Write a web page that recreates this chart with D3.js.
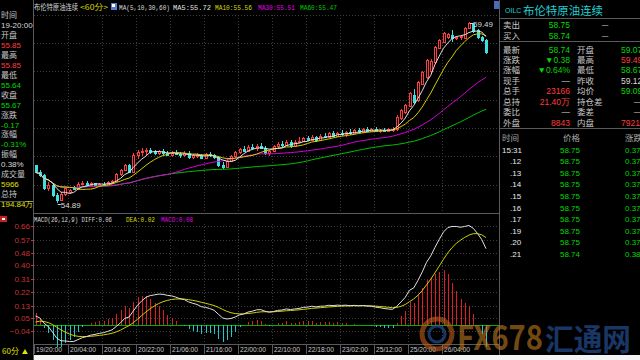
<!DOCTYPE html>
<html>
<head>
<meta charset="utf-8">
<script src="https://cdn.jsdelivr.net/npm/d3@7"></script>
<style>
  body { margin: 0; background: #000; overflow: hidden; }
  text { font-family: "Noto Sans CJK SC", "DejaVu Sans", sans-serif; }
  .num { font-family: "Liberation Sans", Arial, sans-serif; }
  .mono { font-family: "Liberation Mono", "DejaVu Sans Mono", monospace; }
</style>
</head>
<body>
<svg id="chart" width="640" height="360"></svg>
<script>
// 60-minute bars, 19/20:00 -> 26/14:00
var open  = [55.85,55.67,55.60,55.28,55.36,55.10,54.96,55.12,55.16,55.30,55.24,55.38,55.40,55.36,55.39,55.35,55.38,55.36,55.42,55.45,
             55.63,55.72,55.85,55.67,56.10,56.19,56.22,56.24,56.22,56.15,56.20,56.16,56.12,56.17,56.13,56.10,56.16,56.05,56.10,56.12,
             56.03,56.13,56.10,56.05,55.85,55.80,55.96,56.08,56.18,56.26,56.22,56.32,56.28,56.35,56.30,56.16,56.20,56.33,56.40,56.36,
             56.45,56.34,56.44,56.46,56.54,56.50,56.58,56.48,56.60,56.58,56.66,56.60,56.68,56.64,56.70,56.66,56.74,56.70,56.77,56.73,
             56.76,56.72,56.75,56.73,56.76,56.76,57.05,57.20,57.36,57.63,57.50,57.92,58.10,58.25,58.47,58.83,58.98,59.10,59.16,59.08,
             59.10,59.08,59.34,59.44,59.28,59.10,59.02];
var high  = [55.85,55.72,55.63,55.42,55.38,55.14,55.16,55.30,55.25,55.33,55.42,55.44,55.45,55.42,55.41,55.40,55.43,55.44,55.47,55.66,
             55.76,55.88,55.87,56.16,56.24,56.30,56.28,56.30,56.24,56.24,56.26,56.22,56.20,56.24,56.18,56.20,56.20,56.14,56.16,56.14,
             56.16,56.18,56.14,56.08,55.92,56.02,56.12,56.22,56.30,56.34,56.36,56.40,56.38,56.42,56.34,56.24,56.36,56.44,56.46,56.48,
             56.50,56.48,56.56,56.58,56.60,56.62,56.60,56.64,56.68,56.70,56.72,56.70,56.74,56.72,56.76,56.78,56.80,56.80,56.82,56.80,
             56.82,56.78,56.80,56.80,56.82,57.12,57.28,57.40,57.72,57.78,58.00,58.25,58.55,58.56,58.88,59.06,59.24,59.22,59.28,59.14,
             59.16,59.36,59.49,59.47,59.32,59.14,59.07];
var low   = [55.64,55.55,55.22,55.20,55.05,54.89,54.93,55.08,55.12,55.22,55.22,55.34,55.33,55.32,55.33,55.30,55.34,55.33,55.38,55.42,
             55.58,55.70,55.64,55.65,56.02,56.08,56.12,56.14,56.10,56.10,56.12,56.08,56.06,56.10,56.04,56.06,56.02,56.00,56.04,56.00,
             56.00,56.05,56.00,55.80,55.76,55.78,55.92,56.04,56.14,56.18,56.20,56.24,56.22,56.26,56.12,56.08,56.18,56.28,56.32,56.34,
             56.30,56.32,56.42,56.44,56.46,56.48,56.44,56.46,56.54,56.56,56.56,56.58,56.60,56.58,56.62,56.64,56.66,56.68,56.70,56.70,
             56.70,56.68,56.70,56.70,56.70,56.72,57.00,57.16,57.32,57.40,57.46,57.88,58.05,58.18,58.44,58.80,58.95,59.06,58.98,59.02,
             59.04,59.06,59.30,59.22,59.05,58.98,58.67];
var close = [55.67,55.60,55.28,55.36,55.10,54.96,55.12,55.27,55.21,55.24,55.38,55.40,55.36,55.39,55.35,55.38,55.36,55.42,55.45,55.63,
             55.72,55.85,55.67,56.10,56.19,56.22,56.24,56.18,56.15,56.20,56.16,56.12,56.17,56.13,56.10,56.16,56.05,56.10,56.12,56.03,
             56.13,56.10,56.05,55.85,55.80,55.96,56.08,56.18,56.26,56.22,56.32,56.28,56.35,56.30,56.16,56.20,56.33,56.40,56.36,56.45,
             56.34,56.44,56.46,56.54,56.50,56.58,56.48,56.60,56.58,56.66,56.60,56.68,56.64,56.70,56.66,56.74,56.70,56.77,56.73,56.76,
             56.72,56.75,56.73,56.76,56.78,57.07,57.25,57.38,57.69,57.46,57.97,58.22,58.52,58.50,58.85,59.03,59.21,59.18,59.08,59.10,
             59.13,59.34,59.46,59.26,59.10,59.02,58.74];

var timeLabels = ["19/20:00","20/04:00","20/14:00","20/22:00","21/06:00","21/16:00","22/00:00",
                  "22/10:00","22/18:00","23/02:00","25/12:00","25/20:00","26/04:00"];
var macdTicks = [0.66, 0.57, 0.48, 0.40, 0.31, 0.22, 0.13, 0.05, -0.04];

// left info panel (cursor on first bar)
var infoLabels = ["时间","开盘","最高","最低","收盘","涨跌","涨幅","振幅","成交量","总持"];
var infoValues = ["19-20:00","55.85","55.85","55.64","55.67","-0.17","-0.31%","0.38%","5966","194.84万"];
var infoColors = ["w","r","r","g","g","g","g","w","y","y"];

// right quote panel
var quoteLeft  = [["卖出","58.75","g"],["买入","58.74","g"]];
var statLeft   = [["最新","58.74","g"],["涨跌","▼0.38","g"],["涨幅","▼0.64%","g"],["现手","—","w"],
                  ["总手","23166","r"],["总持","21.40万","r"],["委比","—","w"],["外盘","8843","r"]];
var statRight  = [["开盘","59.07","g"],["最高","59.49","r"],["最低","58.67","g"],["昨收","59.12","w"],
                  ["均价","59.09","g"],["持仓差","—","w"],["委差","—","w"],["内盘","7921","r"]];
var tickTimes  = ["15:31",".12",".13",".14",".15",".16",".17",".19",".20",".21"];
var tickPrices = ["58.75","58.75","58.75","58.75","58.75","58.75","58.75","58.75","58.75","58.74"];
var tickChg    = ["0.37","0.37","0.37","0.37","0.37","0.37","0.37","0.37","0.37","0.38"];

var headerMA = [["MA5:55.72","#e0e0e0"],["MA10:55.56","#d8d800"],["MA30:55.51","#e000e0"],["MA60:55.47","#00c800"]];

var col = { w: "#d8d8d8", r: "#ff3c3c", g: "#00d800", y: "#e0e000", lab: "#c8c8c8" };
var UP = "#ff3c3c", DOWN = "#3ee0e0", GRID = "#3c3c3c", LINE = "#5a5a5a";

var svg = d3.select("#chart");
svg.append("rect").attr("width", 640).attr("height", 360).attr("fill", "#000");

function txt(x, y, s, fill, size, opts) {
  opts = opts || {};
  var t = svg.append("text").attr("x", x).attr("y", y).text(s)
    .attr("fill", fill).attr("font-size", size)
    .attr("text-anchor", opts.anchor || "start");
  if (opts.cls) t.attr("class", opts.cls);
  if (opts.len) t.attr("textLength", opts.len).attr("lengthAdjust", "spacingAndGlyphs");
  if (opts.bold) t.attr("font-weight", "bold");
  return t;
}

// scales
var x = d3.scaleLinear().domain([0, close.length - 1]).range([35.5, 486]);
var y = d3.scaleLinear().domain([54.89, 59.49]).range([203, 22]);
var ym = d3.scaleLinear().domain([-0.04, 0.66]).range([331, 226]);
var px = function(i) { return Math.round(x(i)); };

// ---- grid ----
var grid = svg.append("g").attr("stroke", GRID).attr("stroke-dasharray", "1,2");
[15, 43, 71, 100, 128, 156, 185].forEach(function(g) {
  grid.append("line").attr("x1", 34).attr("x2", 499).attr("y1", g + 0.5).attr("y2", g + 0.5);
});
macdTicks.forEach(function(v) {
  var yy = Math.round(ym(v)) + 0.5;
  grid.append("line").attr("x1", 34).attr("x2", 499).attr("y1", yy).attr("y2", yy);
});
timeLabels.forEach(function(t, k) {
  var xx = px(k * 8) - 1.5;
  if (k == 0) return;
  grid.append("line").attr("x1", xx).attr("x2", xx).attr("y1", 15).attr("y2", 213);
  grid.append("line").attr("x1", xx).attr("x2", xx).attr("y1", 224).attr("y2", 344);
});

// ---- panel borders ----
var border = svg.append("g").attr("stroke", LINE);
border.append("line").attr("x1", 33.5).attr("x2", 33.5).attr("y1", 0).attr("y2", 360);
border.append("line").attr("x1", 499.5).attr("x2", 499.5).attr("y1", 0).attr("y2", 355);
border.append("line").attr("x1", 33).attr("x2", 499).attr("y1", 213.5).attr("y2", 213.5);
border.append("line").attr("x1", 33).attr("x2", 499).attr("y1", 344.5).attr("y2", 344.5);
border.append("line").attr("x1", 0).attr("x2", 33).attr("y1", 201.5).attr("y2", 201.5);
[18.5, 41.5, 128.5].forEach(function(g) {
  border.append("line").attr("x1", 500).attr("x2", 640).attr("y1", g).attr("y2", g);
});
timeLabels.forEach(function(t, k) {
  var xx = px(k * 8) - 1.5;
  border.append("line").attr("x1", xx).attr("x2", xx).attr("y1", 344).attr("y2", 354);
});

// ---- candles ----
var cg = svg.append("g").attr("shape-rendering", "crispEdges");
close.forEach(function(c, i) {
  var o = open[i], cx = px(i);
  var top = Math.round(y(Math.max(o, c))), bot = Math.round(y(Math.min(o, c)));
  if (bot - top < 1) bot = top + 1;
  if (c >= o) {
    cg.append("line").attr("x1", cx + 0.5).attr("x2", cx + 0.5)
      .attr("y1", y(high[i])).attr("y2", top).attr("stroke", UP);
    cg.append("line").attr("x1", cx + 0.5).attr("x2", cx + 0.5)
      .attr("y1", bot).attr("y2", y(low[i])).attr("stroke", UP);
    cg.append("rect").attr("x", cx - 0.5).attr("y", top + 0.5)
      .attr("width", 2).attr("height", bot - top)
      .attr("fill", "#000").attr("stroke", UP);
  } else {
    cg.append("line").attr("x1", cx + 0.5).attr("x2", cx + 0.5)
      .attr("y1", y(high[i])).attr("y2", y(low[i])).attr("stroke", DOWN);
    cg.append("rect").attr("x", cx - 1).attr("y", top)
      .attr("width", 3).attr("height", bot - top + 1).attr("fill", DOWN);
  }
});

// ---- moving averages ----
function ma(n) {
  return close.map(function(c, i) { return d3.mean(close.slice(Math.max(0, i - n + 1), i + 1)); });
}
var maLine = d3.line().x(function(d, i) { return x(i); }).y(function(d) { return y(d); });
[[60, "#00c000"], [30, "#d800d8"], [10, "#d0d000"], [5, "#e0e0e0"]].forEach(function(m) {
  svg.append("path").attr("d", maLine(ma(m[0]))).attr("fill", "none")
    .attr("stroke", m[1]).attr("stroke-width", 1);
});

// high / low marks
var iHi = d3.maxIndex(high), iLo = d3.minIndex(low);
svg.append("line").attr("x1", x(iHi) + 1).attr("x2", x(iHi) + 4).attr("y1", y(high[iHi]) + 1.5)
  .attr("y2", y(high[iHi]) + 1.5).attr("stroke", "#d8d8d8");
txt(x(iHi) + 4, y(high[iHi]) + 5, d3.format(".2f")(high[iHi]), "#d8d8d8", 8, { cls: "num" });
svg.append("line").attr("x1", x(iLo) + 1).attr("x2", x(iLo) + 4).attr("y1", y(low[iLo]) + 1.5)
  .attr("y2", y(low[iLo]) + 1.5).attr("stroke", "#d8d8d8");
txt(x(iLo) + 4, y(low[iLo]) + 5, d3.format(".2f")(low[iLo]), "#d8d8d8", 8, { cls: "num" });

// ---- MACD(26,12,9) ----
var e12 = close[0] + 0.03, e26 = close[0] - 0.03, dea = 0.02;
var diffArr = [], deaArr = [], histArr = [];
close.forEach(function(c, i) {
  if (i > 0) { e12 += (c - e12) * 2 / 13; e26 += (c - e26) * 2 / 27; }
  var d = e12 - e26;
  if (i > 0) dea += (d - dea) * 2 / 10;
  diffArr.push(d); deaArr.push(dea); histArr.push(2 * (d - dea));
});
svg.append("line").attr("x1", 34).attr("x2", 499).attr("y1", Math.round(ym(0)) + 0.5)
  .attr("y2", Math.round(ym(0)) + 0.5).attr("stroke", "#00b000");
var hg = svg.append("g").attr("shape-rendering", "crispEdges");
histArr.forEach(function(h, i) {
  hg.append("line").attr("x1", px(i) + 0.5).attr("x2", px(i) + 0.5)
    .attr("y1", ym(0)).attr("y2", ym(h)).attr("stroke", h >= 0 ? "#e02020" : "#20c8c8");
});
var mLine = d3.line().x(function(d, i) { return x(i); }).y(function(d) { return ym(d); });
svg.append("path").attr("d", mLine(deaArr)).attr("fill", "none").attr("stroke", "#d0d000");
svg.append("path").attr("d", mLine(diffArr)).attr("fill", "none").attr("stroke", "#e0e0e0");

macdTicks.forEach(function(v) {
  var yy = ym(v);
  txt(30, yy + 3, d3.format(".2f")(v), "#c83232", 8, { anchor: "end", cls: "num" });
  svg.append("line").attr("x1", 31).attr("x2", 34).attr("y1", Math.round(yy) + 0.5)
    .attr("y2", Math.round(yy) + 0.5).attr("stroke", "#c83232");
});

// x axis labels
timeLabels.forEach(function(t, k) {
  txt(px(k * 8), 352, t, "#c8c8c8", 7, { cls: "num", len: 26 });
});

// ---- headers ----
txt(34, 10, "布伦特原油连续", "#d8d8d8", 7.5, { len: 44 });
txt(80, 10, "<60分>", "#d8d800", 7.5, { len: 28 });
svg.append("rect").attr("x", 111).attr("y", 3).attr("width", 6).attr("height", 7).attr("fill", "#5a7ad0");
svg.append("rect").attr("x", 112).attr("y", 4).attr("width", 3).attr("height", 3).attr("fill", "#fff");
txt(119, 10, "MA(5,10,30,60)", "#d8d8d8", 7.5, { cls: "mono", len: 51 });
headerMA.forEach(function(m, k) {
  txt([173, 215, 258, 300][k], 10, m[0], m[1], 7.5, { cls: "mono", len: k == 0 ? 38 : 37 });
});
svg.append("rect").attr("x", 494).attr("y", 1).attr("width", 5).attr("height", 8).attr("fill", "#4a6ac0");

txt(34, 222, "MACD(26,12,9) DIFF:0.06", "#d8d8d8", 7.5, { cls: "mono", len: 78 });
txt(126, 222, "DEA:0.02", "#d8d800", 7.5, { cls: "mono", len: 29 });
txt(161, 222, "MACD:0.08", "#e000e0", 7.5, { cls: "mono", len: 32 });
svg.append("rect").attr("x", 0).attr("y", 216).attr("width", 7).attr("height", 6).attr("fill", "#c02020");
svg.append("rect").attr("x", 2).attr("y", 218).attr("width", 3).attr("height", 2).attr("fill", "#fff");

// ---- left info panel ----
infoLabels.forEach(function(l, k) {
  var yy = 15 + k * 19.9;
  txt(1, yy + 3, l, col.lab, 8);
  txt(1, yy + 13, infoValues[k], col[infoColors[k]], 8, { cls: "num" });
});
txt(2, 354, "60分", "#e0e000", 8);
svg.append("path").attr("d", "M22,354 L25,349 L28,354 Z").attr("fill", "#e0e000");

// ---- right quote panel ----
txt(505, 13, "OILC", "#20d0d0", 7, { cls: "num" });
txt(523, 15, "布伦特原油连续", "#20d0d0", 11, { len: 80 });
quoteLeft.forEach(function(r, k) {
  var yy = 28 + k * 10.5;
  txt(503, yy, r[0], col.lab, 8.5);
  txt(570, yy, r[1], col[r[2]], 8.5, { anchor: "end", cls: "num" });
  txt(605, yy, "—", col.w, 8, { anchor: "middle" });
});
statLeft.forEach(function(r, k) {
  var yy = 52.5 + k * 10.45;
  txt(503, yy, r[0], col.lab, 8.5);
  txt(570, yy, r[1], col[r[2]], 8.5, { anchor: "end", cls: "num" });
  var rr = statRight[k];
  txt(577, yy, rr[0], col.lab, 8.5);
  if (rr[1] == "—") txt(637, yy, "—", col.w, 8, { anchor: "middle" });
  else txt(621, yy, rr[1], col[rr[2]], 8.5, { cls: "num" });
});
txt(502, 141, "时间", "#a8a8a8", 8.5);
txt(563, 141, "价格", "#a8a8a8", 8.5);
txt(625, 141, "涨跌", "#a8a8a8", 8.5);
tickTimes.forEach(function(t, k) {
  var yy = 152.5 + k * 11.6;
  txt(k == 0 ? 502 : 510, yy, t, "#e8e8e8", 8, { cls: "num" });
  txt(580, yy, tickPrices[k], col.g, 8, { anchor: "end", cls: "num" });
  txt(625, yy, tickChg[k], col.g, 8, { cls: "num" });
});

// ---- watermark ----
var wm = svg.append("g").attr("opacity", 0.6);
wm.append("circle").attr("cx", 437).attr("cy", 334).attr("r", 15).attr("fill", "none")
  .attr("stroke", "#c06020").attr("stroke-width", 5);
wm.append("circle").attr("cx", 437).attr("cy", 334).attr("r", 8).attr("fill", "none")
  .attr("stroke", "#2a5aa8").attr("stroke-width", 3);
wm.append("text").attr("x", 457).attr("y", 350).text("FX678").attr("fill", "#c07a20")
  .attr("font-size", 34).attr("font-weight", "bold").attr("font-family", "DejaVu Sans")
  .attr("textLength", 86).attr("lengthAdjust", "spacingAndGlyphs");
wm.append("text").attr("x", 545).attr("y", 350).text("汇通网").attr("fill", "#2a5aa8")
  .attr("font-size", 30).attr("font-weight", "bold")
  .attr("textLength", 86).attr("lengthAdjust", "spacingAndGlyphs");

// bottom strip of the screenshot
svg.append("rect").attr("x", 34).attr("y", 355).attr("width", 606).attr("height", 5).attr("fill", "#f4f4f4");
</script>
</body>
</html>
